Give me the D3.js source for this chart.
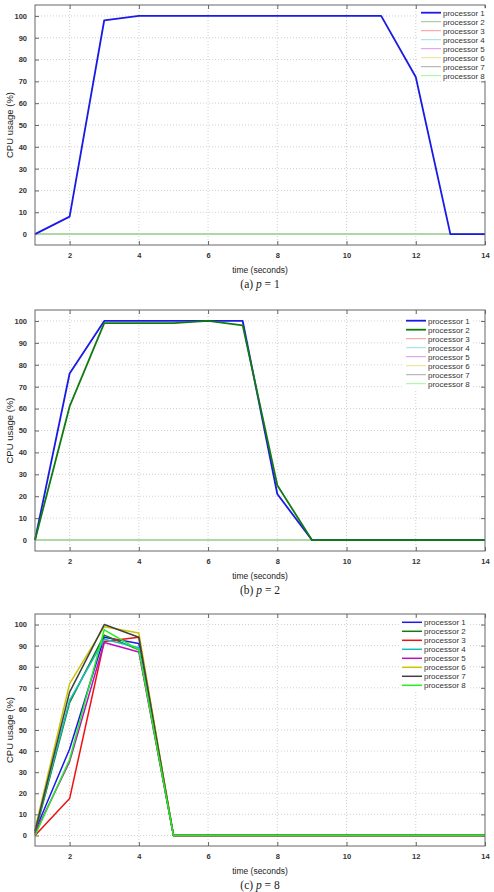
<!DOCTYPE html>
<html><head><meta charset="utf-8">
<script src="https://cdn.jsdelivr.net/npm/d3@7"></script>
<style>body{margin:0;background:#fff}svg{display:block}</style>
</head><body>
<script>
// ---- data ----
const times = [1,2,3,4,5,6,7,8,9,10,11,12,13,14];
const xTicks = [2,4,6,8,10,12,14];
const yTicks = [0,10,20,30,40,50,60,70,80,90,100];
const processorNames = ["processor 1","processor 2","processor 3","processor 4","processor 5","processor 6","processor 7","processor 8"];
const processorColors = ["#1a1ae6","#117a11","#ee1111","#14bdbd","#bb10bb","#c9c400","#404040","#22ee22"];
const zeros = [0,0,0,0,0,0,0,0,0,0,0,0,0,0];

// (a) p = 1
const a_p1 = [0,8,98,100,100,100,100,100,100,100,100,72,0,0];
// (b) p = 2
const b_p1 = [0,76,100,100,100,100,100,21,0,0,0,0,0,0];
const b_p2 = [0,61,99,99,99,100,98,25,0,0,0,0,0,0];
// (c) p = 8
const c_p1 = [2,41,94,91,0,0,0,0,0,0,0,0,0,0];
const c_p2 = [1,63,95,88,0,0,0,0,0,0,0,0,0,0];
const c_p3 = [0,17.5,92,94,0,0,0,0,0,0,0,0,0,0];
const c_p4 = [2,64,93,89,0,0,0,0,0,0,0,0,0,0];
const c_p5 = [1,35,91.5,87,0,0,0,0,0,0,0,0,0,0];
const c_p6 = [3,72,99,96,0,0,0,0,0,0,0,0,0,0];
const c_p7 = [2,68,100,94,0,0,0,0,0,0,0,0,0,0];
const c_p8 = [0,36,97.5,88,0,0,0,0,0,0,0,0,0,0];

const panels = [
  {series:[a_p1,zeros,zeros,zeros,zeros,zeros,zeros,zeros], active:[true,false,false,false,false,false,false,false],
   top:5, bottom:245, legX:421, legY:12.7, letter:"a", p:"1"},
  {series:[b_p1,b_p2,zeros,zeros,zeros,zeros,zeros,zeros], active:[true,true,false,false,false,false,false,false],
   top:310, bottom:551, legX:406, legY:320.7, letter:"b", p:"2"},
  {series:[c_p1,c_p2,c_p3,c_p4,c_p5,c_p6,c_p7,c_p8], active:[true,true,true,true,true,true,true,true],
   top:614, bottom:846, legX:402, legY:622.3, letter:"c", p:"8"}
];

const W = 494, H = 892, left = 35, right = 485;
const svg = d3.select("body").append("svg").attr("width",W).attr("height",H);
const x = d3.scaleLinear().domain([1,14]).range([left,right]);
const tint = c => d3.interpolateRgb(c, "#ffffff")(0.55);

panels.forEach(pn => {
  const y = d3.scaleLinear().domain([-5,105]).range([pn.bottom,pn.top]);
  const g = svg.append("g");
  // grid
  g.append("g").selectAll("line").data(xTicks.filter(t=>t<14)).join("line")
    .attr("x1",d=>x(d)).attr("x2",d=>x(d)).attr("y1",pn.top).attr("y2",pn.bottom)
    .attr("stroke","#bbb").attr("stroke-width",0.7).attr("stroke-dasharray","1,2");
  g.append("g").selectAll("line").data(yTicks).join("line")
    .attr("x1",left).attr("x2",right).attr("y1",d=>y(d)).attr("y2",d=>y(d))
    .attr("stroke","#bbb").attr("stroke-width",0.7).attr("stroke-dasharray","1,2");

  // axes (inward ticks)
  const axB = d3.axisBottom(x).tickValues(xTicks).tickSize(-4).tickPadding(8).tickFormat(d3.format("d"));
  const axT = d3.axisTop(x).tickValues(xTicks).tickSize(-4).tickFormat("");
  const axL = d3.axisLeft(y).tickValues(yTicks).tickSize(-4).tickPadding(8);
  const axR = d3.axisRight(y).tickValues(yTicks).tickSize(-4).tickFormat("");
  [[axB,`translate(0,${pn.bottom})`],[axT,`translate(0,${pn.top})`],[axL,`translate(${left},0)`],[axR,`translate(${right},0)`]]
    .forEach(([ax,tr]) => {
      const a = g.append("g").attr("transform",tr).call(ax);
      a.select(".domain").remove();
      a.selectAll("line").attr("stroke","#666");
      a.selectAll("text").attr("font-family","Liberation Sans, Arial, sans-serif").attr("font-size",7.5)
        .attr("font-weight","bold").attr("fill","#333");
    });

  // lines: inactive first, then active
  const line = d3.line().x((d,i)=>x(times[i])).y(d=>y(d));
  const order = d3.range(8).sort((a,b)=> (pn.active[a]-pn.active[b]) || (a-b));
  order.forEach(i => {
    g.append("path").datum(pn.series[i]).attr("d",line).attr("fill","none")
      .attr("stroke", pn.active[i] ? processorColors[i] : tint(processorColors[i]))
      .attr("stroke-width", pn.active[i] ? (pn.letter==="c"?1.5:1.8) : 1)
      .attr("stroke-linejoin","round");
  });

  // frame
  g.append("rect").attr("x",left).attr("y",pn.top).attr("width",right-left).attr("height",pn.bottom-pn.top)
    .attr("fill","none").attr("stroke","#666").attr("stroke-width",1);

  // legend
  const lg = g.append("g");
  lg.append("rect").attr("x",pn.legX-2).attr("y",pn.legY-4.5).attr("width",68).attr("height",8*9+0.5).attr("fill","#fff");
  processorNames.forEach((nm,i) => {
    const yy = pn.legY + i*9;
    lg.append("line").attr("x1",pn.legX).attr("x2",pn.legX+20).attr("y1",yy).attr("y2",yy)
      .attr("stroke", pn.active[i] ? processorColors[i] : tint(processorColors[i]))
      .attr("stroke-width", pn.active[i] ? (pn.letter==="c"?1.5:1.8) : 1);
    lg.append("text").attr("x",pn.legX+22).attr("y",yy+2.8).text(nm)
      .attr("font-family","Liberation Sans, Arial, sans-serif").attr("font-size",8).attr("fill","#333");
  });

  // axis labels
  g.append("text").attr("x",(left+right)/2).attr("y",pn.bottom+27.5).attr("text-anchor","middle")
    .attr("font-family","Liberation Sans, Arial, sans-serif").attr("font-size",8.5).attr("fill","#222").text("time (seconds)");
  g.append("text").attr("transform",`translate(13,${(pn.top+pn.bottom)/2}) rotate(-90)`).attr("text-anchor","middle")
    .attr("font-family","Liberation Sans, Arial, sans-serif").attr("font-size",9.5).attr("fill","#222").text("CPU usage (%)");

  // caption
  const cap = g.append("text").attr("x",(left+right)/2).attr("y",pn.bottom+43).attr("text-anchor","middle")
    .attr("font-family","Liberation Serif, DejaVu Serif, serif").attr("font-size",11.5).attr("fill","#222");
  cap.append("tspan").text(`(${pn.letter}) `);
  cap.append("tspan").attr("font-style","italic").text("p");
  cap.append("tspan").text(` = ${pn.p}`);
});
</script>
</body></html>
